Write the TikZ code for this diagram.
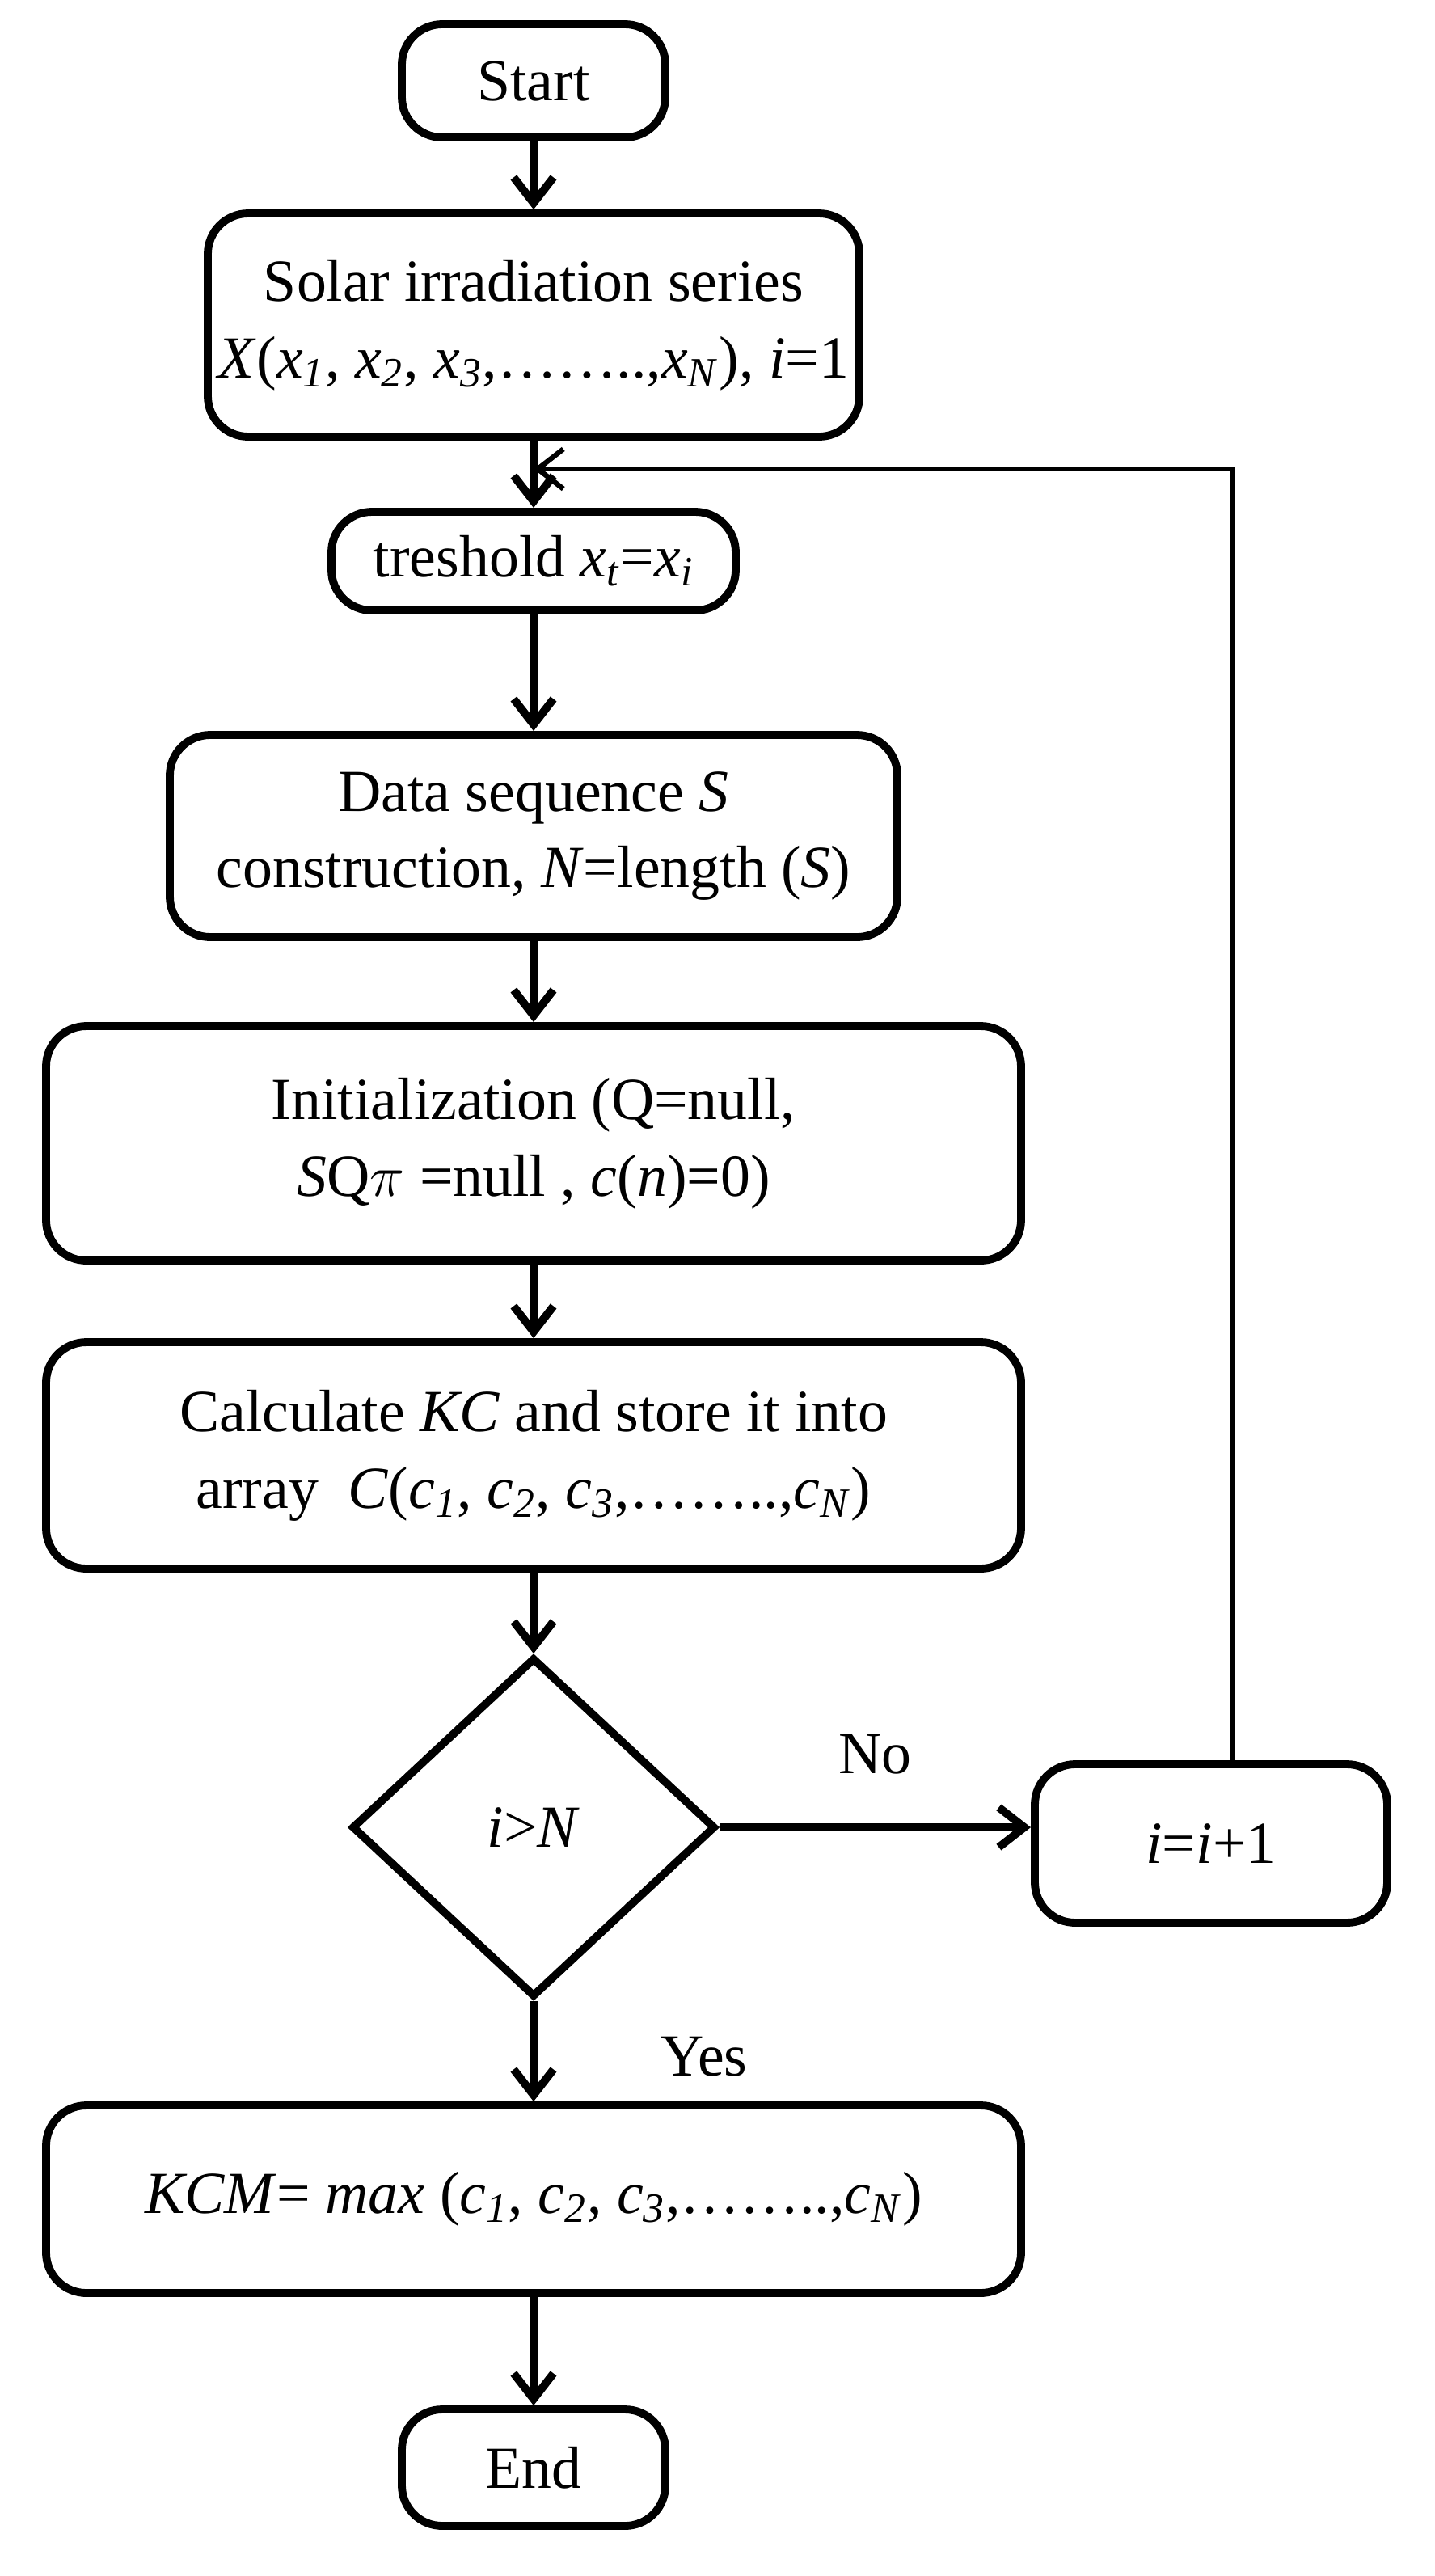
\documentclass[tikz,border=0pt]{standalone}
\usepackage{fontspec}
\setmainfont{Liberation Serif}
\usetikzlibrary{shapes.geometric,arrows.meta}
\newcommand{\sbi}[1]{\textsubscript{\textit{#1}}}
\begin{document}
\begin{tikzpicture}[x=0.02cm,y=-0.02cm,
  box/.style={draw,line width=2.8pt,rounded corners=0.5cm,align=center,inner sep=0pt,font=\fontsize{21}{27}\selectfont},
  arr/.style={line width=2.8pt,-{Straight Barb[length=9pt,width=14pt,line width=2.8pt]}},
  thin/.style={line width=1.8pt}]
\useasboundingbox (0,0) rectangle (887,1593);
\node[box,minimum width=163*0.02cm,minimum height=70*0.02cm] (start) at (330,50) {Start};
\node[box,minimum width=403*0.02cm,minimum height=138*0.02cm] (sol) at (330,201) {Solar irradiation series\\ \textit{X}(\textit{x}\sbi{1}, \textit{x}\sbi{2}, \textit{x}\sbi{3},\dots\dots..,\textit{x}\sbi{N}), \textit{i}=1};
\node[box,minimum width=250*0.02cm,minimum height=61*0.02cm] (thr) at (330,347) {treshold \textit{x}\sbi{t}=\textit{x}\sbi{i}};
\node[box,minimum width=450*0.02cm,minimum height=125*0.02cm] (data) at (330,517) {Data sequence \textit{S}\\ construction, \textit{N}=length (\textit{S})};
\node[box,minimum width=603*0.02cm,minimum height=145*0.02cm] (init) at (330,707) {Initialization (Q=null,\\ \textit{S}Q$\pi$ =null , \textit{c}(\textit{n})=0)};
\node[box,minimum width=603*0.02cm,minimum height=140*0.02cm] (calc) at (330,900) {Calculate \textit{KC} and store it into\\ array\ \ \textit{C}(\textit{c}\sbi{1}, \textit{c}\sbi{2}, \textit{c}\sbi{3},\dots\dots..,\textit{c}\sbi{N})};
\node[draw,diamond,line width=2.8pt,minimum width=225*0.02cm,minimum height=210*0.02cm,aspect=1.07,inner sep=0pt,font=\fontsize{21}{25}\selectfont] (dec) at (330,1130) {\textit{i}>\textit{N}};
\node[box,minimum width=218*0.02cm,minimum height=98*0.02cm] (inc) at (749,1140) {\textit{i}=\textit{i}+1};
\node[box,minimum width=603*0.02cm,minimum height=116*0.02cm] (kcm) at (330,1360) {\textit{KCM}= \textit{max} (\textit{c}\sbi{1}, \textit{c}\sbi{2}, \textit{c}\sbi{3},\dots\dots..,\textit{c}\sbi{N})};
\node[box,minimum width=163*0.02cm,minimum height=72*0.02cm] (end) at (330,1526) {End};
\coordinate (j) at (330,290);
\draw[arr] (start) -- (sol);
\draw[line width=2.8pt] (sol.south) -- (j);
\draw[arr] (j) -- (thr.north);
\draw[arr] (thr) -- (data);
\draw[arr] (data) -- (init);
\draw[arr] (init) -- (calc);
\draw[arr] (calc.south) -- (dec.north);
\draw[arr] (dec.east) -- (dec.east -| inc.west) node[midway,above=14pt,font=\fontsize{21}{25}\selectfont] {No};
\draw[thin,-{Straight Barb[length=9pt,width=14pt,line width=1.8pt]}] (inc.north -| 762,0) -- (762,290) -- (j);
\draw[arr] (dec.south) -- (kcm.north) node[pos=0.55,right=40pt,font=\fontsize{21}{25}\selectfont] {Yes};
\draw[arr] (kcm) -- (end);
\end{tikzpicture}
\end{document}
